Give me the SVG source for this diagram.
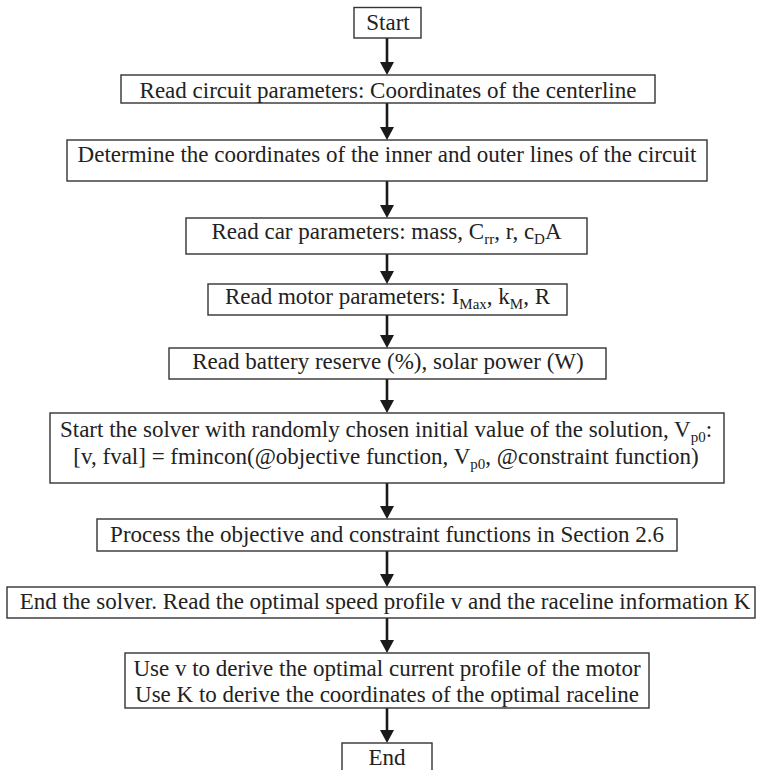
<svg xmlns="http://www.w3.org/2000/svg" width="757" height="770" viewBox="0 0 757 770">
<style>
.box{fill:#fff;stroke:#333;stroke-width:1.4}
.t{font-family:"Liberation Serif","Times New Roman",serif;font-size:23px;fill:#222;text-anchor:middle}
.s{font-size:15px}
.c{stroke:#1a1a1a;stroke-width:2.6;fill:none}
</style>
<defs>
<marker id="ah" viewBox="0 -7 13 14" refX="3" refY="0" markerWidth="13" markerHeight="14" markerUnits="userSpaceOnUse" orient="auto">
<path d="M0,-7 L13,0 L0,7 z" fill="#1a1a1a"/>
</marker>
</defs>
<rect width="757" height="770" fill="#fff"/>
<g id="connectors">
<line class="c" x1="387" y1="38" x2="387" y2="65" marker-end="url(#ah)"/>
<line class="c" x1="387" y1="103" x2="387" y2="130" marker-end="url(#ah)"/>
<line class="c" x1="387" y1="181" x2="387" y2="208" marker-end="url(#ah)"/>
<line class="c" x1="387" y1="254" x2="387" y2="274" marker-end="url(#ah)"/>
<line class="c" x1="387" y1="315" x2="387" y2="338" marker-end="url(#ah)"/>
<line class="c" x1="387" y1="379" x2="387" y2="403" marker-end="url(#ah)"/>
<line class="c" x1="387" y1="483" x2="387" y2="509" marker-end="url(#ah)"/>
<line class="c" x1="387" y1="551" x2="387" y2="577" marker-end="url(#ah)"/>
<line class="c" x1="387" y1="618" x2="387" y2="643" marker-end="url(#ah)"/>
<line class="c" x1="387" y1="708" x2="387" y2="733" marker-end="url(#ah)"/>
</g>
<g id="start">
<rect class="box" x="354" y="7.5" width="67" height="30.5"/>
<text class="t" x="388" y="30">Start</text>
</g>
<g id="read-circuit">
<rect class="box" x="121" y="75" width="534" height="28"/>
<text class="t" x="388" y="97.5">Read circuit parameters: Coordinates of the centerline</text>
</g>
<g id="determine-coords">
<rect class="box" x="67" y="140" width="640" height="41"/>
<text class="t" x="387" y="162">Determine the coordinates of the inner and outer lines of the circuit</text>
</g>
<g id="read-car">
<rect class="box" x="186" y="218" width="401" height="36"/>
<text class="t" x="386.5" y="239">Read car parameters: mass, C<tspan class="s" dy="5">rr</tspan><tspan dy="-5">, r, c</tspan><tspan class="s" dy="5">D</tspan><tspan dy="-5">A</tspan></text>
</g>
<g id="read-motor">
<rect class="box" x="208" y="284" width="359" height="31"/>
<text class="t" x="387.5" y="304">Read motor parameters: I<tspan class="s" dy="5">Max</tspan><tspan dy="-5">, k</tspan><tspan class="s" dy="5">M</tspan><tspan dy="-5">, R</tspan></text>
</g>
<g id="read-battery">
<rect class="box" x="169" y="348" width="437" height="31"/>
<text class="t" x="388" y="369">Read battery reserve (%), solar power (W)</text>
</g>
<g id="start-solver">
<rect class="box" x="50" y="413" width="674" height="70"/>
<text class="t" x="386" y="437">Start the solver with randomly chosen initial value of the solution, V<tspan class="s" dy="5">p0</tspan><tspan dy="-5">:</tspan></text>
<text class="t" x="386" y="464">[v, fval] = fmincon(@objective function, V<tspan class="s" dy="5">p0</tspan><tspan dy="-5">, @constraint function)</tspan></text>
</g>
<g id="process">
<rect class="box" x="97" y="519" width="580" height="32"/>
<text class="t" x="387" y="542">Process the objective and constraint functions in Section 2.6</text>
</g>
<g id="end-solver">
<rect class="box" x="7" y="587" width="748" height="31"/>
<text class="t" x="385" y="609">End the solver. Read the optimal speed profile v and the raceline information K</text>
</g>
<g id="use-v-k">
<rect class="box" x="125" y="653" width="524" height="55"/>
<text class="t" x="387" y="676">Use v to derive the optimal current profile of the motor</text>
<text class="t" x="387" y="702">Use K to derive the coordinates of the optimal raceline</text>
</g>
<g id="end">
<rect class="box" x="342" y="743" width="90" height="34"/>
<text class="t" x="387" y="765">End</text>
</g>
</svg>
